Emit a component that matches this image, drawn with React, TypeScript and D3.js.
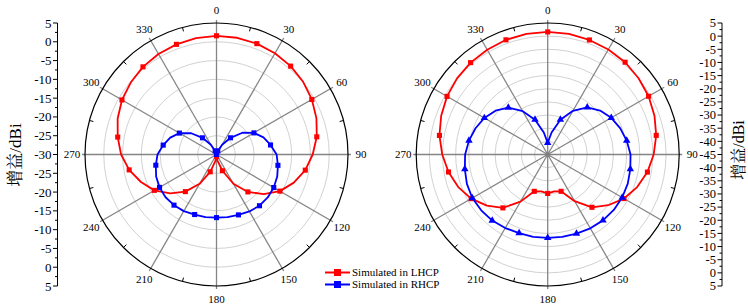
import React from "react";
import * as d3 from "d3";

const angles = [0,10,20,30,40,50,60,70,80,90,100,110,120,130,140,150,160,170,180,190,200,210,220,230,240,250,260,270,280,290,300,310,320,330,340,350];

const leftLHCP = [1.6,1.55,1.4,1.1,0.7,0.1,-0.7,-1.7,-2.9,-4.4,-6.0,-8.1,-10.5,-13.6,-17.0,-21.0,-25.4,-28.3,-29.5,-28.2,-25.1,-21.0,-17.1,-13.9,-10.9,-8.6,-6.4,-4.6,-3.3,-2.0,-0.95,-0.2,0.45,0.9,1.2,1.45];
const leftRHCP = [-30,-30,-29,-27,-24.2,-21.0,-18.5,-16.7,-15.4,-14.0,-13.4,-12.8,-12.4,-12.2,-12.2,-12.5,-12.9,-13.1,-13.2,-13.1,-13.0,-12.6,-12.4,-12.3,-12.5,-12.9,-13.6,-14.3,-15.6,-16.9,-18.6,-21.2,-24.2,-27,-29,-30];
const rightLHCP = [1.6,1.55,1.35,1.1,0.8,0.1,-0.7,-1.8,-3.1,-4.7,-6.5,-8.8,-11.5,-15.0,-18.8,-24.5,-30.1,-30.8,-30.2,-30.8,-30.1,-24.3,-18.5,-14.8,-11.4,-8.8,-6.7,-4.9,-3.2,-1.9,-0.8,0.0,0.6,1.0,1.4,1.55];
const rightRHCP = [-40.6,-36.5,-30.9,-25.8,-21.6,-19.0,-17.1,-15.7,-14.5,-13.5,-13.1,-12.6,-12.3,-12.2,-12.3,-12.6,-13.0,-13.2,-13.3,-13.2,-13.2,-12.7,-12.2,-12.0,-11.9,-12.3,-13.0,-13.6,-14.6,-15.8,-17.2,-19.1,-21.7,-26.0,-30.9,-36.5];

const angleLabels = [0,30,60,90,120,150,180,210,240,270,300,330];
const minorAngles = [15,45,75,105,135,165,195,225,255,285,315,345];
const leftTicks = [-30,-25,-20,-15,-10,-5,0,5];
const rightTicks = [-45,-40,-35,-30,-25,-20,-15,-10,-5,0,5];
const legendLabels = ["Simulated in LHCP","Simulated in RHCP"];
const axisTitle = "增益/dBi";

const RED = "#ff0000";
const BLUE = "#0000ff";
const R = 131.5;
const CY = 154.5;
const SERIF = "'Liberation Serif','Times New Roman',serif";
const CJK = "'Liberation Serif','Noto Serif CJK SC','Noto Sans CJK SC',serif";

type Series = { values: number[]; color: string; marker: "square" | "triangle" };

function Polar({ cx, domain, ticks, series }: { cx: number; domain: [number, number]; ticks: number[]; series: Series[] }) {
  const r = d3.scaleLinear().domain(domain).range([0, R]).clamp(true);
  const rad = (a: number) => (a * Math.PI) / 180;
  const pt = (a: number, rr: number): [number, number] => [cx + rr * Math.sin(rad(a)), CY - rr * Math.cos(rad(a))];
  const line = d3.lineRadial<number>().angle((_, i) => rad(angles[i])).radius((v) => r(v)).curve(d3.curveLinearClosed);
  const inner = ticks.filter((t) => t > domain[0] && t < domain[1]);
  return (
    <g>
      {inner.map((t) => (
        <circle key={t} cx={cx} cy={CY} r={r(t)} fill="none" stroke="#d2d2d2" strokeWidth={1} />
      ))}
      {angleLabels.map((a) => {
        const [x2, y2] = pt(a, R + 3);
        return <line key={a} x1={cx} y1={CY} x2={x2} y2={y2} stroke="#858585" strokeWidth={1.3} />;
      })}
      <circle cx={cx} cy={CY} r={R} fill="none" stroke="#000" strokeWidth={1.2} />
      {minorAngles.map((a) => {
        const [x1, y1] = pt(a, R);
        const [x2, y2] = pt(a, R - 4);
        return <line key={a} x1={x1} y1={y1} x2={x2} y2={y2} stroke="#000" strokeWidth={1} />;
      })}
      {angleLabels.map((a) => {
        const [x, y] = pt(a, R + 13);
        return (
          <text key={a} x={x} y={y} dy="0.35em" textAnchor="middle" fontFamily={SERIF} fontSize={11} fill="#000">
            {a}
          </text>
        );
      })}
      <circle cx={cx} cy={CY} r={2.5} fill="#808080" />
      {series.map((s, si) => (
        <g key={si} transform={`translate(${cx},${CY})`}>
          <path d={line(s.values) || ""} fill="none" stroke={s.color} strokeWidth={1.8} strokeLinejoin="round" />
          {s.values.map((v, i) => {
            if (angles[i] % 20 !== 0) return null;
            const a = rad(angles[i]);
            const x = r(v) * Math.sin(a);
            const y = -r(v) * Math.cos(a);
            const sym = d3.symbol().type(s.marker === "square" ? d3.symbolSquare : d3.symbolTriangle).size(s.marker === "square" ? 26 : 24);
            return <path key={i} d={sym() || ""} transform={`translate(${x},${y})`} fill={s.color} />;
          })}
        </g>
      ))}
    </g>
  );
}

function RadialAxis({ x, labels, fontSize }: { x: number; labels: number[]; fontSize: number }) {
  const full = [...labels.slice().reverse(), ...labels.slice(1)];
  const y = d3.scaleLinear().domain([0, full.length - 1]).range([CY - R, CY + R]);
  const minors = d3.range(0, full.length - 1).map((i) => y(i + 0.5));
  return (
    <g>
      <line x1={x} y1={CY - R} x2={x} y2={CY + R} stroke="#000" strokeWidth={1} />
      {full.map((v, i) => (
        <g key={i}>
          <line x1={x - 4.5} y1={y(i)} x2={x} y2={y(i)} stroke="#000" strokeWidth={1} />
          <text x={x - 6} y={y(i)} dy="0.35em" textAnchor="end" fontFamily={SERIF} fontSize={fontSize} fill="#000">
            {v}
          </text>
        </g>
      ))}
      {minors.map((m, i) => (
        <line key={i} x1={x - 2.5} y1={m} x2={x} y2={m} stroke="#000" strokeWidth={1} />
      ))}
    </g>
  );
}

export default function App() {
  return (
    <svg width={748} height={305} style={{ position: "absolute", left: 0, top: 0, background: "#fff" }}>
      <rect width={748} height={305} fill="#fff" />
      <RadialAxis x={57.5} labels={leftTicks} fontSize={13} />
      <RadialAxis x={722} labels={rightTicks} fontSize={12.5} />
      <text transform={`translate(21,155) rotate(-90)`} textAnchor="middle" fontFamily={CJK} fontSize={17} fill="#000">{axisTitle}</text>
      <text transform={`translate(744,150) rotate(-90)`} textAnchor="middle" fontFamily={CJK} fontSize={16} fill="#000">{axisTitle}</text>
      <Polar cx={216.5} domain={[-30, 5]} ticks={leftTicks}
        series={[{ values: leftLHCP, color: RED, marker: "square" }, { values: leftRHCP, color: BLUE, marker: "square" }]} />
      <Polar cx={547.7} domain={[-45, 5]} ticks={rightTicks}
        series={[{ values: rightLHCP, color: RED, marker: "square" }, { values: rightRHCP, color: BLUE, marker: "triangle" }]} />
      {legendLabels.map((l, i) => {
        const yy = 272.5 + i * 12;
        const c = i === 0 ? RED : BLUE;
        return (
          <g key={l}>
            <line x1={325} y1={yy} x2={350} y2={yy} stroke={c} strokeWidth={2} />
            <rect x={334} y={yy - 3.5} width={7} height={7} fill={c} />
            <text x={352} y={yy} dy="0.35em" fontFamily={SERIF} fontSize={11} fill="#000">{l}</text>
          </g>
        );
      })}
    </svg>
  );
}
